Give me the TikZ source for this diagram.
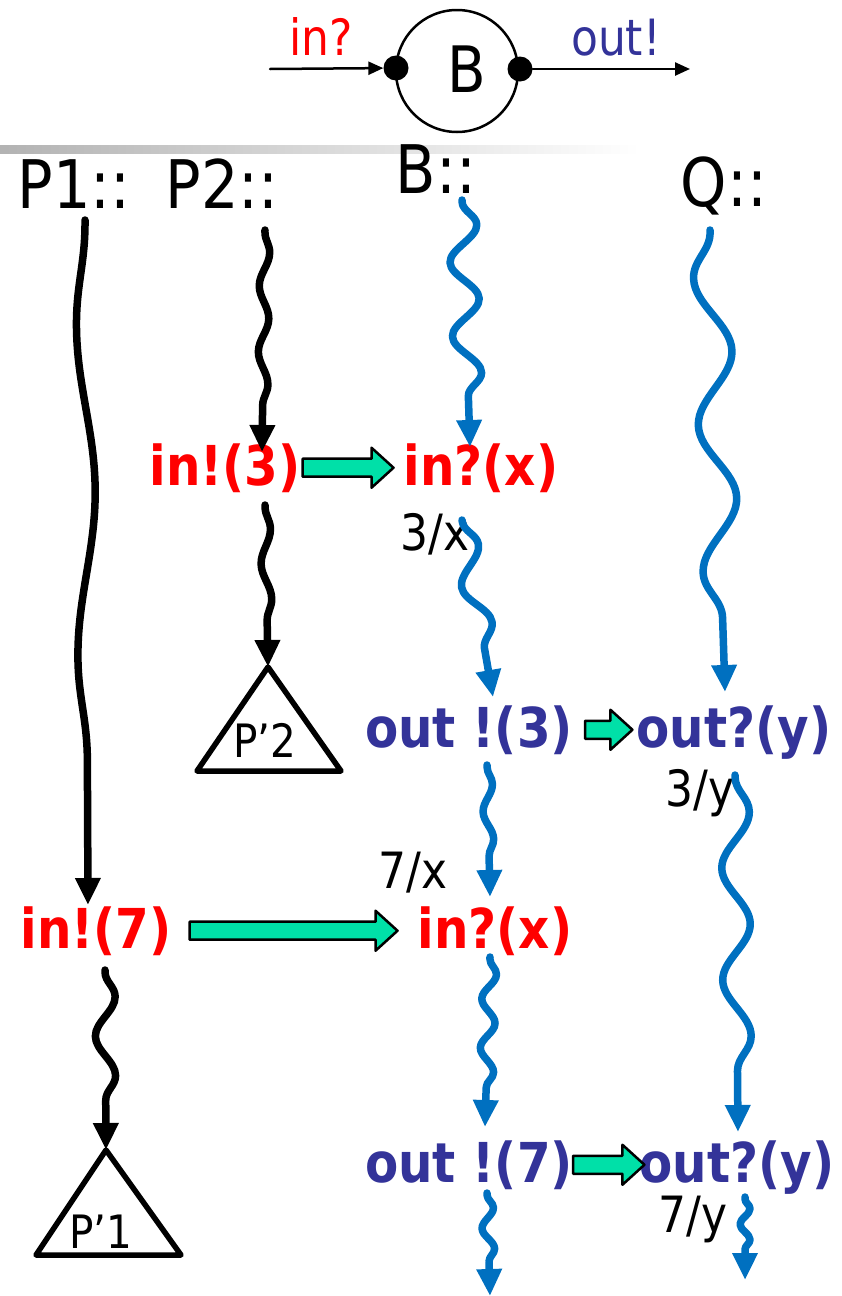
\documentclass[tikz,border=0pt]{standalone}
\usepackage{fontspec}
\setmainfont{DejaVu Sans}[FakeStretch=0.88]
\usepackage{tikz}
\usetikzlibrary{arrows.meta, calc, decorations.pathmorphing}
\definecolor{chanred}{RGB}{255,0,0}
\definecolor{chanblue}{RGB}{51,51,153}
\definecolor{flowblue}{RGB}{0,112,192}
\definecolor{msggreen}{RGB}{0,224,168}
\tikzset{
	lbl/.style={inner sep=0pt, anchor=base},
	hdr/.style={lbl, font=\fontsize{67}{72}\selectfont},
	act/.style={lbl, font=\fontsize{55}{60}\selectfont\bfseries},
	sub/.style={lbl, font=\fontsize{50}{56}\selectfont},
	port/.style={circle, fill=black, inner sep=0pt, minimum size=25pt},
	wave/.style 2 args={line width=7.5pt, -{Triangle[length=27pt,width=24pt]},
		decorate, decoration={snake, amplitude=#1, segment length=#2, pre length=2pt, post length=18pt}},
	tri/.style={line width=5.5pt},
	msg/.style={draw=black, line width=2.5pt, fill=msggreen}
}
\begin{document}
\begin{tikzpicture}[x=1pt, y=-1pt, line cap=round, line join=round]
	\useasboundingbox (0,0) rectangle (841,1296);
	\shade[left color=black!30, right color=white] (0,145) rectangle (640,153);

	% the buffer B with its two ports
	\node[draw, circle, line width=2.5pt, minimum size=122pt, inner sep=0pt] (bproc) at (457,71) {};
	\node[lbl, font=\fontsize{64}{70}\selectfont] (bname) at (467,92) {B};
	\node[port] (pin) at (396,68) {};
	\node[port] (pout) at (520,69) {};
	\coordinate (chin) at (270,69);
	\coordinate (chout) at (690,69);
	\draw[line width=2.5pt, -{Triangle[length=15pt,width=13pt]}] (chin) -- (pin);
	\draw[line width=2.5pt, -{Triangle[length=15pt,width=13pt]}] (pout) -- (chout);
	\node[sub, text=chanred] (inlbl) at (321,55) {in?};
	\node[sub, text=chanblue] (outlbl) at (616,55) {out!};

	\node[hdr] (p1) at (74,208) {P1::};
	\node[hdr] (p2) at (222,208) {P2::};
	\node[hdr] (b) at (436,193) {B::};
	\node[hdr] (q) at (724,206) {Q::};

	\node[act, text=chanred] (in3) at (225,485) {in!(3)};
	\node[act, text=chanred] (inx1) at (481,485) {in?(x)};
	\node[act, text=chanblue] (out3) at (469,747) {out !(3)};
	\node[act, text=chanblue] (outy1) at (734,747) {out?(y)};
	\node[act, text=chanred] (in7) at (96,948) {in!(7)};
	\node[act, text=chanred] (inx2) at (495,948) {in?(x)};
	\node[act, text=chanblue] (out7) at (469,1182) {out !(7)};
	\node[act, text=chanblue] (outy2) at (737,1182) {out?(y)};

	\node[sub] (s3x) at (435,550) {3/x};
	\node[sub] (s3y) at (700,806) {3/y};
	\node[sub] (s7x) at (413,888) {7/x};
	\node[sub] (s7y) at (693,1232) {7/y};

	\foreach \s/\t/\gs/\gt in {in3/inx1/2/10, out3/outy1/12/4, in7/inx2/18/20, out7/outy2/0/-5}
		\draw[msg] let \p1=(\s.east), \p2=(\t.west) in
			(\x1+\gs,\y1-9) -- (\x2-\gt-22,\y1-9) -- (\x2-\gt-22,\y1-20) -- (\x2-\gt,\y1)
			-- (\x2-\gt-22,\y1+20) -- (\x2-\gt-22,\y1+9) -- (\x1+\gs,\y1+9) -- cycle;

	\coordinate (p1a) at (85,220);   \coordinate (p1b) at (88,905);
	\coordinate (p1c) at (105,970);  \coordinate (t1) at (106,1150);
	\coordinate (p2a) at (265,230);  \coordinate (p2b) at (262,452);
	\coordinate (p2c) at (265,505);  \coordinate (t2) at (268,667);
	\coordinate (ba) at (462,200);   \coordinate (bb) at (470,447);
	\coordinate (bc) at (462,520);   \coordinate (bd) at (493,697);
	\coordinate (be) at (487,765);   \coordinate (bf) at (490,897);
	\coordinate (bg) at (490,957);   \coordinate (bh) at (485,1127);
	\coordinate (bi) at (487,1193);  \coordinate (bj) at (490,1296);
	\coordinate (qa) at (710,230);   \coordinate (qb) at (725,692);
	\coordinate (qc) at (735,775);   \coordinate (qd) at (738,1132);
	\coordinate (qe) at (745,1197);  \coordinate (qf) at (745,1280);

	\draw[wave={-9pt}{331pt}] (p1a) -- (p1b);
	\draw[wave={10pt}{79pt}] (p1c) -- (t1);
	\draw[wave={5pt}{66pt}] (p2a) -- (p2b);
	\draw[wave={5pt}{70pt}] (p2c) -- (t2);
	\draw[flowblue, wave={14pt}{74pt}] (ba) -- (bb);
	\draw[flowblue, wave={12pt}{79pt}] (bc) -- (bd);
	\draw[flowblue, wave={5pt}{55pt}] (be) -- (bf);
	\draw[flowblue, wave={7pt}{49pt}] (bg) -- (bh);
	\draw[flowblue, wave={6pt}{41pt}] (bi) -- (bj);
	\draw[flowblue, wave={-18pt}{147pt}] (qa) -- (qb);
	\draw[flowblue, wave={14pt}{112pt}] (qc) -- (qd);
	\draw[flowblue, wave={5pt}{31pt}] (qe) -- (qf);

	\draw[tri] (t2) -- ++(-71,104) -- ++(144,0) -- cycle;
	\node[sub, font=\fontsize{46}{52}\selectfont] (p2n) at (265,757) {P’2};
	\draw[tri] (t1) -- ++(-70,105) -- ++(145,0) -- cycle;
	\node[sub, font=\fontsize{46}{52}\selectfont] (p1n) at (101,1248) {P’1};
\end{tikzpicture}
\end{document}
